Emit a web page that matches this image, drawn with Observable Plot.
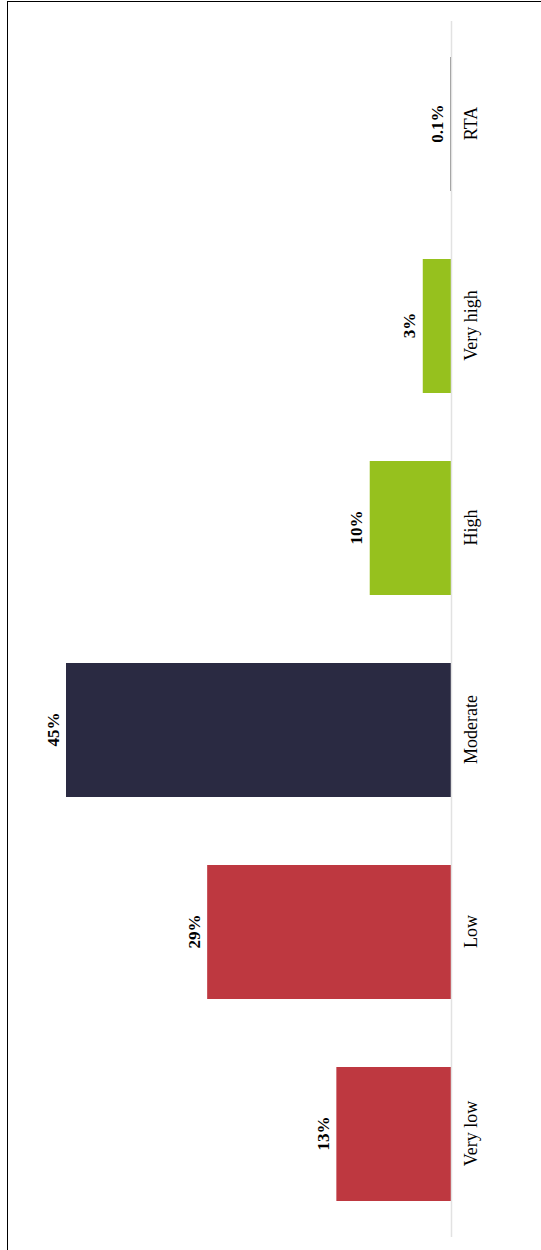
<!DOCTYPE html>
<html>
<head>
<meta charset="utf-8">
<script src="https://cdn.jsdelivr.net/npm/d3@7"></script>
<script src="https://cdn.jsdelivr.net/npm/@observablehq/plot@0.6"></script>
<style>
  html, body { margin: 0; padding: 0; overflow: hidden; background: #fff; width: 541px; height: 1250px; }
  #wrap {
    position: absolute; left: 0; top: 0;
    width: 1250px; height: 541px;
    transform-origin: 0 0;
    transform: translateY(1250px) rotate(-90deg);
  }
  #frame {
    position: absolute; left: 0; top: 7px; width: 1249px; height: 534px;
    border-top: 1.5px solid #000; border-right: 1.5px solid #000;
    box-sizing: border-box;
  }
  #chart { position: absolute; left: 0; top: 0; }
</style>
</head>
<body>
<div id="wrap"><div id="frame"></div><div id="chart"></div></div>
<script>
const categories = ["Very low", "Low", "Moderate", "High", "Very high", "RTA"];
const values = [13.4, 28.5, 45.0, 9.5, 3.3, 0.1];
const colors = ["#BE3840", "#BE3840", "#2A2A42", "#96C11E", "#96C11E", "#808080"];

const data = categories.map((c, i) => ({category: c, value: values[i], color: colors[i]}));
const fmt = v => (v < 1 ? v.toFixed(1) : String(Math.round(v))) + "%";

const chart = Plot.plot({
  width: 1250,
  height: 541,
  marginLeft: 13,
  marginRight: 21,
  marginTop: 66,
  marginBottom: 90,
  style: {fontFamily: "'Liberation Serif', 'Times New Roman', serif", background: "transparent"},
  x: {domain: categories, paddingInner: 0.335, paddingOuter: 0.165, label: null, axis: null},
  y: {axis: null, label: null},
  marks: [
    Plot.barY(data, {x: "category", y: "value", fill: "color"}),
    Plot.ruleY([0], {stroke: "#e2e2e2", strokeWidth: 1.5}),
    Plot.text(data, {x: "category", y: "value", text: d => fmt(d.value), lineAnchor: "bottom", dy: -8,
      fontSize: 17, fontWeight: "bold", fill: "#000"}),
    Plot.axisX({tickSize: 0, tickPadding: 13, fontSize: 18, label: null, fill: "#000"})
  ]
});
document.getElementById("chart").appendChild(chart);
</script>
</body>
</html>
